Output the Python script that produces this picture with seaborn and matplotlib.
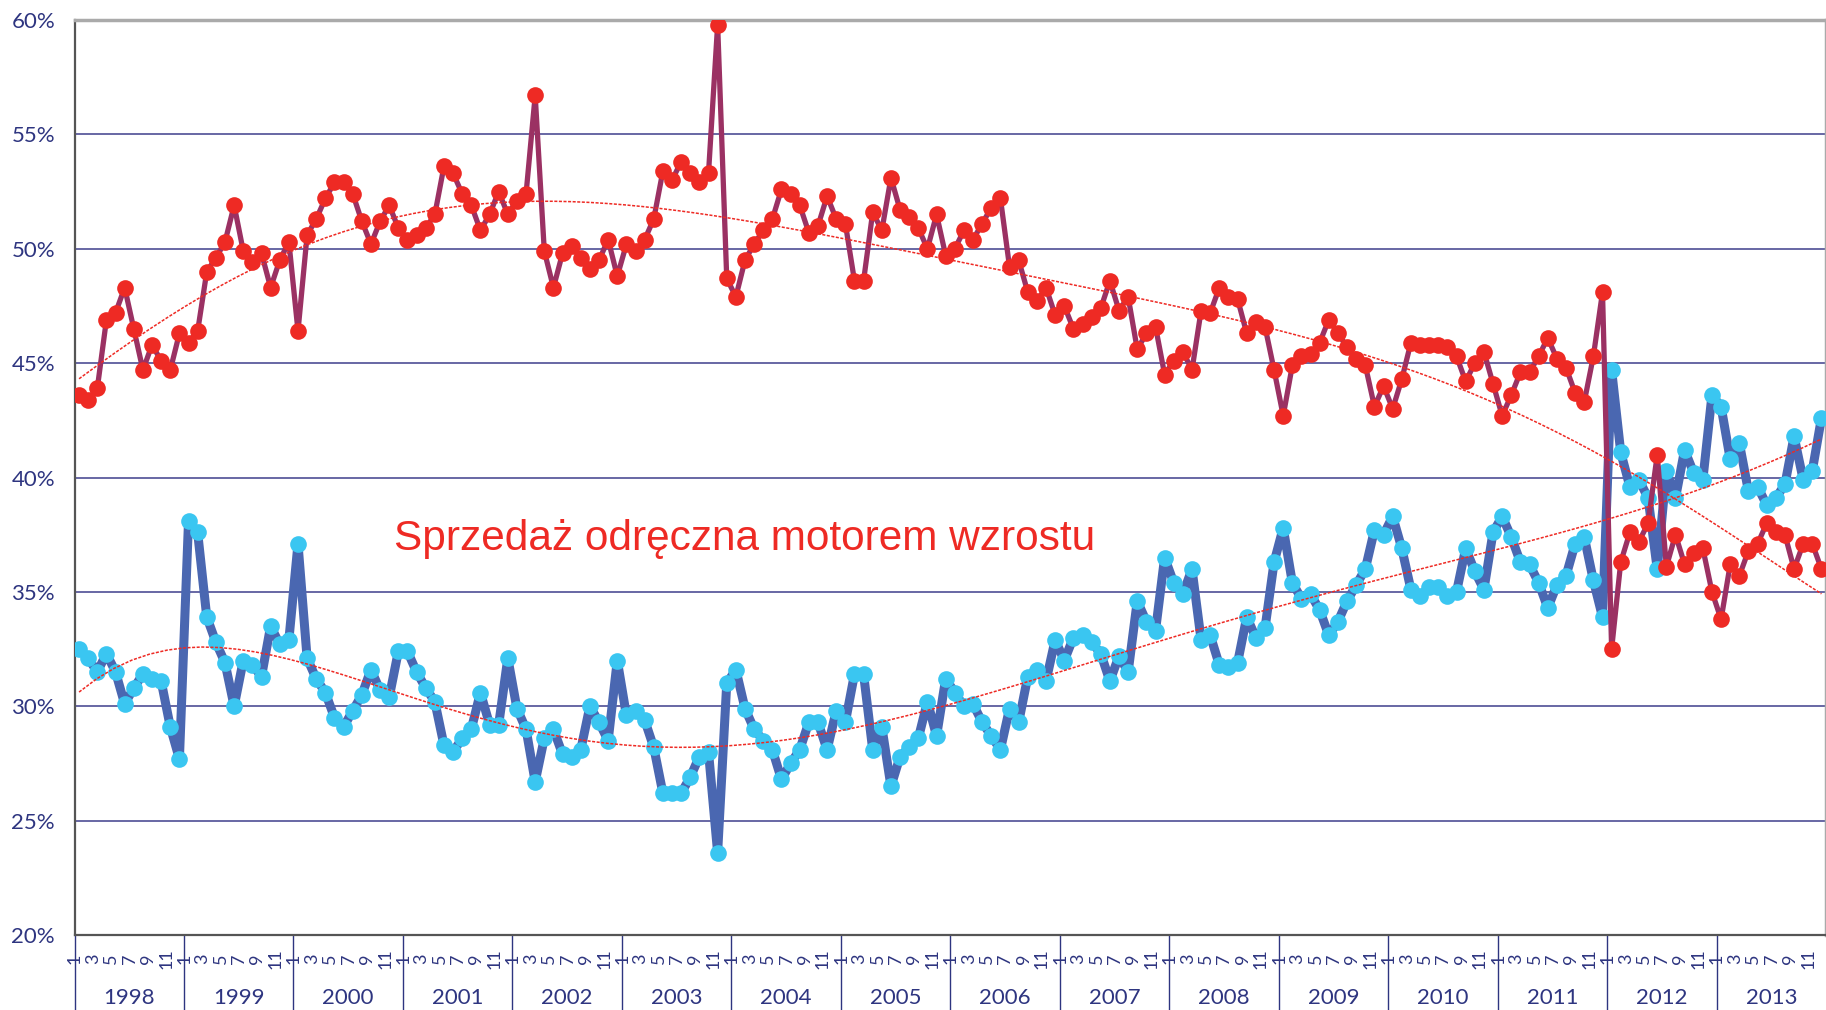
import numpy as np
import pandas as pd
import matplotlib
matplotlib.use("Agg")
import matplotlib.pyplot as plt
import seaborn as sns

# monthly shares, Jan 1998 .. Dec 2013 (12 values per year)
years = list(range(1998, 2014))
month_labels = ["1", "", "3", "", "5", "", "7", "", "9", "", "11", ""]

top_share = [
    43.6, 43.4, 43.9, 46.9, 47.2, 48.3, 46.5, 44.7, 45.8, 45.1, 44.7, 46.3,
    45.9, 46.4, 49.0, 49.6, 50.3, 51.9, 49.9, 49.4, 49.8, 48.3, 49.5, 50.3,
    46.4, 50.6, 51.3, 52.2, 52.9, 52.9, 52.4, 51.2, 50.2, 51.2, 51.9, 50.9,
    50.4, 50.6, 50.9, 51.5, 53.6, 53.3, 52.4, 51.9, 50.8, 51.5, 52.5, 51.5,
    52.1, 52.4, 56.7, 49.9, 48.3, 49.8, 50.1, 49.6, 49.1, 49.5, 50.4, 48.8,
    50.2, 49.9, 50.4, 51.3, 53.4, 53.0, 53.8, 53.3, 52.9, 53.3, 59.8, 48.7,
    47.9, 49.5, 50.2, 50.8, 51.3, 52.6, 52.4, 51.9, 50.7, 51.0, 52.3, 51.3,
    51.1, 48.6, 48.6, 51.6, 50.8, 53.1, 51.7, 51.4, 50.9, 50.0, 51.5, 49.7,
    50.0, 50.8, 50.4, 51.1, 51.8, 52.2, 49.2, 49.5, 48.1, 47.7, 48.3, 47.1,
    47.5, 46.5, 46.7, 47.0, 47.4, 48.6, 47.3, 47.9, 45.6, 46.3, 46.6, 44.5,
    45.1, 45.5, 44.7, 47.3, 47.2, 48.3, 47.9, 47.8, 46.3, 46.8, 46.6, 44.7,
    42.7, 44.9, 45.3, 45.4, 45.9, 46.9, 46.3, 45.7, 45.2, 44.9, 43.1, 44.0,
    43.0, 44.3, 45.9, 45.8, 45.8, 45.8, 45.7, 45.3, 44.2, 45.0, 45.5, 44.1,
    42.7, 43.6, 44.6, 44.6, 45.3, 46.1, 45.2, 44.8, 43.7, 43.3, 45.3, 48.1,
    32.5, 36.3, 37.6, 37.2, 38.0, 41.0, 36.1, 37.5, 36.2, 36.7, 36.9, 35.0,
    33.8, 36.2, 35.7, 36.8, 37.1, 38.0, 37.6, 37.5, 36.0, 37.1, 37.1, 36.0,
]

bottom_share = [
    32.5, 32.1, 31.5, 32.3, 31.5, 30.1, 30.8, 31.4, 31.2, 31.1, 29.1, 27.7,
    38.1, 37.6, 33.9, 32.8, 31.9, 30.0, 32.0, 31.8, 31.3, 33.5, 32.7, 32.9,
    37.1, 32.1, 31.2, 30.6, 29.5, 29.1, 29.8, 30.5, 31.6, 30.7, 30.4, 32.4,
    32.4, 31.5, 30.8, 30.2, 28.3, 28.0, 28.6, 29.0, 30.6, 29.2, 29.2, 32.1,
    29.9, 29.0, 26.7, 28.6, 29.0, 27.9, 27.8, 28.1, 30.0, 29.3, 28.5, 32.0,
    29.6, 29.8, 29.4, 28.2, 26.2, 26.2, 26.2, 26.9, 27.8, 28.0, 23.6, 31.0,
    31.6, 29.9, 29.0, 28.5, 28.1, 26.8, 27.5, 28.1, 29.3, 29.3, 28.1, 29.8,
    29.3, 31.4, 31.4, 28.1, 29.1, 26.5, 27.8, 28.2, 28.6, 30.2, 28.7, 31.2,
    30.6, 30.0, 30.1, 29.3, 28.7, 28.1, 29.9, 29.3, 31.3, 31.6, 31.1, 32.9,
    32.0, 33.0, 33.1, 32.8, 32.3, 31.1, 32.2, 31.5, 34.6, 33.7, 33.3, 36.5,
    35.4, 34.9, 36.0, 32.9, 33.1, 31.8, 31.7, 31.9, 33.9, 33.0, 33.4, 36.3,
    37.8, 35.4, 34.7, 34.9, 34.2, 33.1, 33.7, 34.6, 35.3, 36.0, 37.7, 37.5,
    38.3, 36.9, 35.1, 34.8, 35.2, 35.2, 34.8, 35.0, 36.9, 35.9, 35.1, 37.6,
    38.3, 37.4, 36.3, 36.2, 35.4, 34.3, 35.3, 35.7, 37.1, 37.4, 35.5, 33.9,
    44.7, 41.1, 39.6, 39.9, 39.1, 36.0, 40.3, 39.1, 41.2, 40.2, 39.9, 43.6,
    43.1, 40.8, 41.5, 39.4, 39.6, 38.8, 39.1, 39.7, 41.8, 39.9, 40.3, 42.6,
]

annotation = "Sprzedaż odręczna motorem wzrostu"

NAVY = "#2E3580"
RED = "#EE2A24"

sns.set_style("white")
plt.rcParams["font.family"] = ["Lato", "DejaVu Sans"]

df = pd.DataFrame({
    "idx": np.arange(len(top_share)),
    "top": top_share,
    "bottom": bottom_share,
})

fig = plt.figure(figsize=(18.26, 10.10), dpi=100)
ax = fig.add_axes([74.5 / 1826, 1 - 935 / 1010, 1 - 74.5 / 1826, 915 / 1010])

# bottom series first, the top series sits over it
sns.lineplot(data=df, x="idx", y="bottom", ax=ax, color="#4A67B1", lw=6.5,
             marker="o", markersize=12, markerfacecolor="#3AC6F1",
             markeredgewidth=0, zorder=3)
sns.lineplot(data=df, x="idx", y="top", ax=ax, color="#9B3163", lw=3.8,
             marker="o", markersize=12, markerfacecolor=RED,
             markeredgewidth=0, zorder=4)

# polynomial trend lines
for col in ["top", "bottom"]:
    sns.regplot(data=df, x="idx", y=col, ax=ax, order=6, scatter=False,
                ci=None, truncate=True,
                line_kws={"color": RED, "lw": 1.1, "ls": (0, (2, 1)),
                          "zorder": 5})

ax.text(34.5, 37.3, annotation, color=RED, fontsize=30.5,
        family=["Liberation Sans", "DejaVu Sans"], ha="left", va="center")

# y axis
ax.set_ylim(20, 60)
yticks = np.arange(20, 61, 5)
ax.set_yticks(yticks)
ax.set_yticklabels([f"{v}%" for v in yticks], fontsize=16, color=NAVY)
ax.yaxis.grid(True, color="#3F3F8C", lw=1.1)
ax.tick_params(axis="y", length=6, color="#555555", pad=8)

# x axis: month cells and year groups
n = len(top_share)
ax.set_xlim(-0.5, n - 0.5)
ax.set_xticks(np.arange(-0.5, n, 1))
ax.set_xticklabels([])
ax.tick_params(axis="x", length=26.5, width=1, color=NAVY, direction="out")

trans = ax.get_xaxis_transform()
for i in range(n):
    lab = month_labels[i % 12]
    if lab:
        ax.text(i - 0.45, -0.026, lab, transform=trans, rotation=90,
                ha="center", va="center", fontsize=13, color=NAVY)
for j, yr in enumerate(years):
    ax.text(12 * j + 5.5, -0.069, str(yr), transform=trans,
            ha="center", va="center", fontsize=16, color=NAVY)
    ax.plot([12 * j - 0.5] * 2, [0, -0.09], transform=trans, color=NAVY,
            lw=1, clip_on=False)

ax.set_xlabel("")
ax.set_ylabel("")

for side in ["left", "bottom"]:
    ax.spines[side].set_color("#555555")
    ax.spines[side].set_linewidth(1.6)
for side in ["top", "right"]:
    ax.spines[side].set_color("#AAAAAA")
    ax.spines[side].set_linewidth(2.5)

fig.savefig("out.png", dpi=100)
plt.close(fig)
